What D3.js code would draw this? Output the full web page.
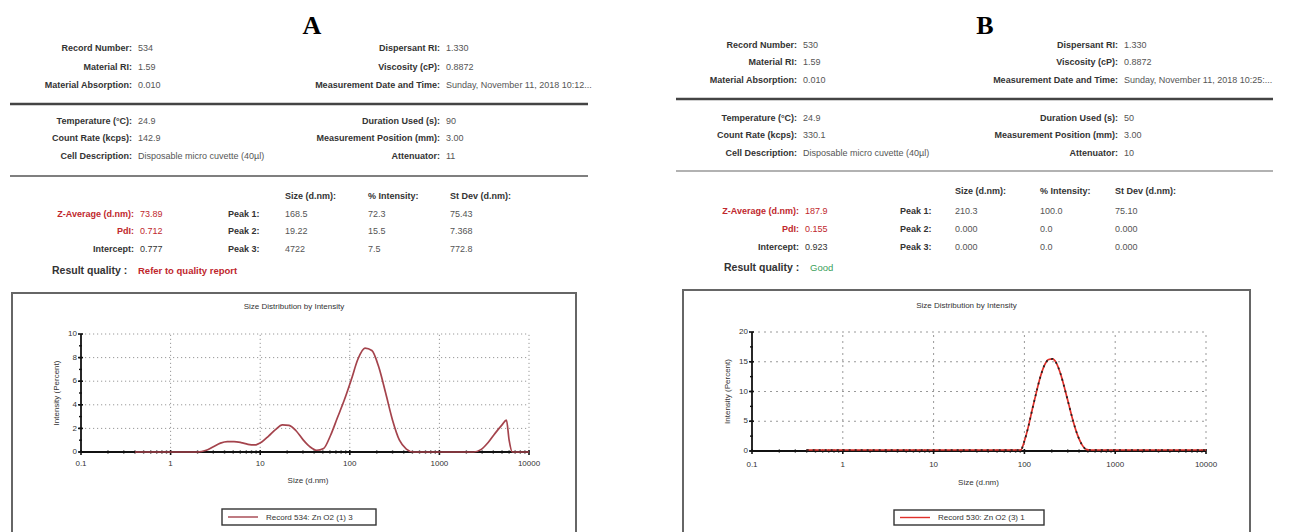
<!DOCTYPE html>
<html>
<head>
<meta charset="utf-8">
<script src="https://cdn.jsdelivr.net/npm/d3@7"></script>
<style>
  body { margin: 0; background: #fff; }
  svg { display: block; }
</style>
</head>
<body>
<div id="chart"></div>
<script>
// ---- report values, panel A (record 534) ----
const infoLeftA = [["Record Number:", "534"], ["Material RI:", "1.59"], ["Material Absorption:", "0.010"]];
const infoRightA = [["Dispersant RI:", "1.330"], ["Viscosity (cP):", "0.8872"], ["Measurement Date and Time:", "Sunday, November 11, 2018 10:12..."]];
const condLeftA = [["Temperature (°C):", "24.9"], ["Count Rate (kcps):", "142.9"], ["Cell Description:", "Disposable micro cuvette (40µl)"]];
const condRightA = [["Duration Used (s):", "90"], ["Measurement Position (mm):", "3.00"], ["Attenuator:", "11"]];
const statsA = [["Z-Average (d.nm):", "73.89"], ["PdI:", "0.712"], ["Intercept:", "0.777"]];
const peaksA = [["Peak 1:", "168.5", "72.3", "75.43"], ["Peak 2:", "19.22", "15.5", "7.368"], ["Peak 3:", "4722", "7.5", "772.8"]];
const qualityA = "Refer to quality report";
const legendA = "Record 534: Zn O2 (1) 3";
const sizeA = [0.4, 1, 2.0, 2.5, 3.0, 3.6, 4.3, 5.1, 6.1, 7.3, 8.7, 10.4, 12.4, 14.8, 17.7, 21.0, 25.1, 30.0, 35.8, 42.7,
               51.0, 60.9, 72.7, 86.8, 103.6, 123.7, 147.7, 176.3, 210.5, 251.3, 300.0, 358.2, 427.7, 510.6,
               2400, 2900, 3500, 4200, 5000, 5600, 6000, 6500, 10000];
const intensityA = [0, 0, 0, 0.15, 0.45, 0.75, 0.88, 0.88, 0.8, 0.65, 0.6, 0.85, 1.35, 1.9, 2.3, 2.25, 1.8, 1.05, 0.45, 0.15,
                    0.3, 1.4, 2.9, 4.4, 6.1, 7.9, 8.8, 8.6, 7.2, 5.0, 2.7, 1.0, 0.25, 0,
                    0, 0.2, 0.8, 1.6, 2.3, 2.7, 1.0, 0, 0];
const yTicksA = [0, 2, 4, 6, 8, 10];

// ---- report values, panel B (record 530) ----
const infoLeftB = [["Record Number:", "530"], ["Material RI:", "1.59"], ["Material Absorption:", "0.010"]];
const infoRightB = [["Dispersant RI:", "1.330"], ["Viscosity (cP):", "0.8872"], ["Measurement Date and Time:", "Sunday, November 11, 2018 10:25:..."]];
const condLeftB = [["Temperature (°C):", "24.9"], ["Count Rate (kcps):", "330.1"], ["Cell Description:", "Disposable micro cuvette (40µl)"]];
const condRightB = [["Duration Used (s):", "50"], ["Measurement Position (mm):", "3.00"], ["Attenuator:", "10"]];
const statsB = [["Z-Average (d.nm):", "187.9"], ["PdI:", "0.155"], ["Intercept:", "0.923"]];
const peaksB = [["Peak 1:", "210.3", "100.0", "75.10"], ["Peak 2:", "0.000", "0.0", "0.000"], ["Peak 3:", "0.000", "0.0", "0.000"]];
const qualityB = "Good";
const legendB = "Record 530: Zn O2 (3) 1";
const sizeB = [0.4, 1, 10, 91, 100, 110, 122, 135, 150, 167, 185, 204, 225, 250, 278, 310, 345, 385, 430, 480, 530, 1000, 10000];
const intensityB = [0, 0, 0, 0, 1.5, 3.8, 6.8, 9.6, 12.3, 14.3, 15.2, 15.3, 14.6, 12.8, 10.3, 7.5, 4.8, 2.5, 0.9, 0.1, 0, 0, 0];
const yTicksB = [0, 5, 10, 15, 20];

const xTicks = [0.1, 1, 10, 100, 1000, 10000];
const peakHeaders = ["Size (d.nm):", "% Intensity:", "St Dev (d.nm):"];

const FONT = "'Liberation Sans Narrow', 'Liberation Sans', Arial, sans-serif";
const RED = "#c0272d";

const svg = d3.select("#chart").append("svg")
    .attr("width", 1291)
    .attr("height", 532)
    .style("background", "#fff");

function txt(g, x, y, s, o = {}) {
    return g.append("text")
        .attr("x", x)
        .attr("y", y)
        .attr("dominant-baseline", "middle")
        .attr("text-anchor", o.anchor || "start")
        .attr("font-family", o.family || FONT)
        .attr("font-size", o.size || 9)
        .attr("font-weight", o.bold ? "bold" : "normal")
        .attr("fill", o.fill || "#333")
        .text(s);
}

function drawPanel(p) {
    const g = svg.append("g");

    // panel letter
    txt(g, p.letterX, 28, p.letter, { anchor: "middle", family: "'Liberation Serif', 'Times New Roman', serif", size: 26, bold: true, fill: "#000" });

    // label/value rows
    const rows = (list, endX, ys, color) => list.forEach((d, i) => {
        txt(g, endX, ys[i], d[0], { anchor: "end", bold: true, fill: color ? color(i) : "#333" });
        txt(g, endX + 6, ys[i], d[1], { fill: color ? color(i) : "#555" });
    });
    rows(p.infoLeft, p.leftEnd, p.rows1);
    rows(p.infoRight, p.rightEnd, p.rows1);
    rows(p.condLeft, p.leftEnd, p.rows2);
    rows(p.condRight, p.rightEnd, p.rows2);

    g.append("line").attr("x1", p.ruleX[0]).attr("x2", p.ruleX[1]).attr("y1", p.rule1).attr("y2", p.rule1)
        .attr("stroke", "#444").attr("stroke-width", 2.5);
    g.append("line").attr("x1", p.ruleX[0]).attr("x2", p.ruleX[1]).attr("y1", p.rule2).attr("y2", p.rule2)
        .attr("stroke", p.rule2Color).attr("stroke-width", 1.6);

    // peak table
    peakHeaders.forEach((h, j) => txt(g, p.colX[j], p.headerY, h, { bold: true }));
    rows(p.stats, p.leftEnd + 2, p.statY, i => i < 2 ? RED : "#333");
    p.peaks.forEach((r, i) => {
        txt(g, p.peakX, p.statY[i], r[0], { bold: true });
        r.slice(1).forEach((v, j) => txt(g, p.colX[j], p.statY[i], v, { fill: "#555" }));
    });
    txt(g, p.qualityX, p.qualityY, "Result quality :", { bold: true, size: 10.5, fill: "#333" });
    txt(g, p.qualityValX, p.qualityY, p.quality, { bold: p.qualityBold, size: 9.5, fill: p.qualityColor });

    // chart frame
    g.append("rect").attr("x", p.box[0]).attr("y", p.box[1])
        .attr("width", p.box[2] - p.box[0]).attr("height", 260)
        .attr("fill", "#fff").attr("stroke", "#666").attr("stroke-width", 2);

    const cx = (p.box[0] + p.box[2]) / 2;
    txt(g, cx, p.titleY, "Size Distribution by Intensity", { anchor: "middle", size: 8, fill: "#333" });

    const x = d3.scaleLog().domain([0.1, 10000]).range([p.x0, p.x1]);
    const y = d3.scaleLinear().domain([0, p.yMax]).range([p.y0, p.y1]);

    // dotted grid
    const grid = g.append("g").attr("stroke", "#999").attr("stroke-width", 1).attr("stroke-dasharray", p.gridDash);
    grid.selectAll(".gx").data(xTicks.slice(1)).enter().append("line")
        .attr("x1", d => x(d)).attr("x2", d => x(d)).attr("y1", p.y0).attr("y2", p.y1);
    grid.selectAll(".gy").data(p.yTicks.slice(1)).enter().append("line")
        .attr("x1", p.x0).attr("x2", p.x1).attr("y1", d => y(d)).attr("y2", d => y(d));

    // axes
    const ax = g.append("g").attr("stroke", "#111");
    ax.append("line").attr("x1", p.x0).attr("x2", p.x1).attr("y1", p.y0).attr("y2", p.y0).attr("stroke-width", 1.8);
    ax.append("line").attr("x1", p.x0).attr("x2", p.x0).attr("y1", p.y0).attr("y2", p.y1).attr("stroke-width", 1.8);

    const minorX = [];
    xTicks.slice(0, -1).forEach(t => { for (let k = 2; k <= 9; k++) minorX.push(t * k); });
    ax.selectAll(".mx").data(minorX).enter().append("line")
        .attr("x1", d => x(d)).attr("x2", d => x(d)).attr("y1", p.y0 - 1.5).attr("y2", p.y0 + 1.5).attr("stroke-width", 1.4);
    ax.selectAll(".tx").data(xTicks).enter().append("line")
        .attr("x1", d => x(d)).attr("x2", d => x(d)).attr("y1", p.y0 - 2).attr("y2", p.y0 + 3).attr("stroke-width", 1.6);
    ax.selectAll(".my").data(d3.range(0, p.yMax, p.yMinor)).enter().append("line")
        .attr("x1", p.x0 - 2).attr("x2", p.x0 + 1).attr("y1", d => y(d)).attr("y2", d => y(d)).attr("stroke-width", 1.4);
    ax.selectAll(".ty").data(p.yTicks).enter().append("line")
        .attr("x1", p.x0 - 3).attr("x2", p.x0 + 2).attr("y1", d => y(d)).attr("y2", d => y(d)).attr("stroke-width", 1.6);

    xTicks.forEach(t => txt(g, x(t), p.xLabelY, String(t), { anchor: "middle", size: 8, fill: "#333" }));
    p.yTicks.forEach(t => txt(g, p.x0 - 4, y(t), String(t), { anchor: "end", size: 8, fill: "#333" }));
    txt(g, cx + p.xTitleShift, p.xTitleY, "Size (d.nm)", { anchor: "middle", size: 8, fill: "#333" });
    txt(g, 0, 0, "Intensity (Percent)", { anchor: "middle", size: 8, fill: "#333" })
        .attr("transform", `translate(${p.yTitleX},${(p.y0 + p.y1) / 2}) rotate(-90)`);

    // distribution curve
    const pts = p.size.map((s, i) => [s, p.intensity[i]]);
    const line = d3.line().x(d => x(d[0])).y(d => y(d[1]) - p.lift).curve(d3.curveMonotoneX);
    g.append("path").datum(pts).attr("d", line).attr("fill", "none")
        .attr("stroke", p.curveColor).attr("stroke-width", 1.7);
    if (p.overlayDash) {
        g.append("path").datum(pts).attr("d", line).attr("fill", "none")
            .attr("stroke", "#222").attr("stroke-width", 1.7).attr("stroke-dasharray", p.overlayDash);
    }

    // legend
    const L = p.legend;
    g.append("rect").attr("x", L[0]).attr("y", L[1]).attr("width", L[2]).attr("height", L[3])
        .attr("fill", "#fff").attr("stroke", "#333").attr("stroke-width", 1.4);
    g.append("line").attr("x1", L[0] + 6).attr("x2", L[0] + 36).attr("y1", L[1] + L[3] / 2).attr("y2", L[1] + L[3] / 2)
        .attr("stroke", p.curveColor).attr("stroke-width", 1.4);
    txt(g, L[0] + 44, L[1] + L[3] / 2 + 0.5, p.legendText, { size: 8, fill: "#333" });
}

drawPanel({
    letter: "A", letterX: 312,
    infoLeft: infoLeftA, infoRight: infoRightA, condLeft: condLeftA, condRight: condRightA,
    stats: statsA, peaks: peaksA, quality: qualityA, qualityColor: RED, qualityBold: true,
    leftEnd: 132, rightEnd: 440, rows1: [49, 68, 86], rows2: [122, 139, 157],
    rule1: 104, rule2: 176, ruleX: [10, 588], rule2Color: "#555",
    headerY: 197, colX: [285, 368, 450], peakX: 228, statY: [215, 232, 250],
    qualityX: 52, qualityValX: 138, qualityY: 271,
    box: [12, 293, 576], titleY: 307,
    x0: 81, x1: 529, y0: 452, y1: 334, yMax: 10, yMinor: 1, yTicks: yTicksA,
    gridDash: "1.2,2.8", xLabelY: 464, xTitleY: 481, xTitleShift: 14, yTitleX: 57,
    size: sizeA, intensity: intensityA, curveColor: "#a4434c", overlayDash: null, lift: 0,
    legend: [222, 509, 154, 16], legendText: legendA
});

drawPanel({
    letter: "B", letterX: 985,
    infoLeft: infoLeftB, infoRight: infoRightB, condLeft: condLeftB, condRight: condRightB,
    stats: statsB, peaks: peaksB, quality: qualityB, qualityColor: "#3aa05a", qualityBold: false,
    leftEnd: 797, rightEnd: 1118, rows1: [46, 63, 81], rows2: [119, 136, 154],
    rule1: 99, rule2: 171, ruleX: [676, 1273], rule2Color: "#999",
    headerY: 192, colX: [955, 1040, 1115], peakX: 900, statY: [212, 230, 248],
    qualityX: 724, qualityValX: 810, qualityY: 268,
    box: [683, 290, 1250], titleY: 306,
    x0: 752, x1: 1206, y0: 451, y1: 332, yMax: 20, yMinor: 2.5, yTicks: yTicksB,
    gridDash: "2,4", xLabelY: 465, xTitleY: 483, xTitleShift: 12, yTitleX: 728,
    size: sizeB, intensity: intensityB, curveColor: "#e0302a", overlayDash: "2,4", lift: 1,
    legend: [894, 510, 150, 15], legendText: legendB
});
</script>
</body>
</html>
